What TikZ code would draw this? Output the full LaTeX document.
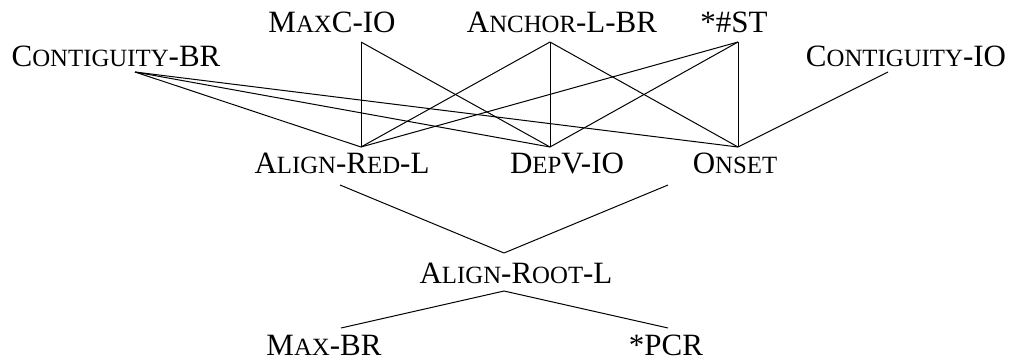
\documentclass[tikz,border=0pt]{standalone}
\usepackage{fontspec}
\setmainfont{Liberation Serif}
\newcommand{\smc}[1]{{\fontsize{12.4}{12.4}\selectfont #1}}
\begin{document}
\begin{tikzpicture}[x=0.5pt,y=-0.5pt,
  lbl/.style={anchor=base,inner sep=0pt,font=\fontsize{15.5}{18}\selectfont},
  edge/.style={line width=0.5pt}]
\useasboundingbox (0,0) rectangle (1016,360);
% labels
\node[lbl] (maxc) at (332,32) {M\smc{AX}C-IO};
\node[lbl] (anchor) at (562,32) {A\smc{NCHOR}-L-BR};
\node[lbl] (st) at (734,32) {*\#ST};
\node[lbl] (contbr) at (116,66) {C\smc{ONTIGUITY}-BR};
\node[lbl] (contio) at (906,66) {C\smc{ONTIGUITY}-IO};
\node[lbl] (alignred) at (342,173) {A\smc{LIGN}-R\smc{ED}-L};
\node[lbl] (depv) at (567,173) {D\smc{EP}V-IO};
\node[lbl] (onset) at (735,173) {O\smc{NSET}};
\node[lbl] (alignroot) at (516,283) {A\smc{LIGN}-R\smc{OOT}-L};
\node[lbl] (maxbr) at (324,355) {M\smc{AX}-BR};
\node[lbl] (pcr) at (666,355) {*PCR};
% connector end points
\coordinate (maxc-s) at (361,42);
\coordinate (anchor-s) at (550,42);
\coordinate (st-s) at (738,42);
\coordinate (contbr-s) at (135,72);
\coordinate (contio-s) at (888,72);
\coordinate (alignred-n) at (361,147);
\coordinate (depv-n) at (550,147);
\coordinate (onset-n) at (738,147);
\coordinate (alignred-s) at (340,185);
\coordinate (onset-s) at (668,185);
\coordinate (alignroot-n) at (504,253);
\coordinate (alignroot-s) at (504,291);
\coordinate (maxbr-n) at (341,328);
\coordinate (pcr-n) at (668,328);
% connectors
\draw[edge] (contbr-s) -- (alignred-n);
\draw[edge] (contbr-s) -- (depv-n);
\draw[edge] (contbr-s) -- (onset-n);
\draw[edge] (maxc-s) -- (alignred-n);
\draw[edge] (maxc-s) -- (depv-n);
\draw[edge] (anchor-s) -- (alignred-n);
\draw[edge] (anchor-s) -- (depv-n);
\draw[edge] (anchor-s) -- (onset-n);
\draw[edge] (st-s) -- (alignred-n);
\draw[edge] (st-s) -- (depv-n);
\draw[edge] (st-s) -- (onset-n);
\draw[edge] (contio-s) -- (onset-n);
\draw[edge] (alignred-s) -- (alignroot-n);
\draw[edge] (onset-s) -- (alignroot-n);
\draw[edge] (alignroot-s) -- (maxbr-n);
\draw[edge] (alignroot-s) -- (pcr-n);
\end{tikzpicture}
\end{document}
